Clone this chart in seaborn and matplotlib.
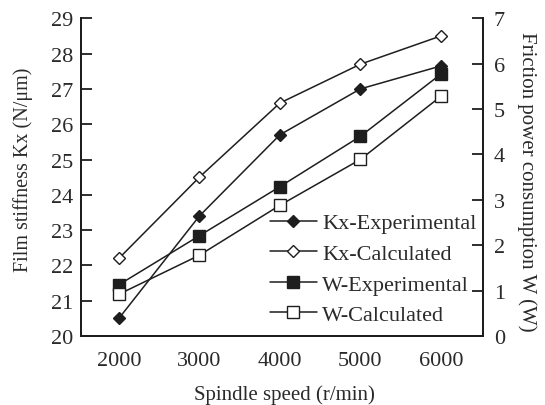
import matplotlib
matplotlib.use("Agg")
import matplotlib.pyplot as plt
import seaborn as sns
import pandas as pd
from matplotlib.ticker import FixedLocator, MultipleLocator

sns.set_theme(style="white")
plt.rcParams['font.family'] = ['Liberation Serif', 'DejaVu Serif']

speed = [2000, 3000, 4000, 5000, 6000]
kx_exp = [20.5, 23.4, 25.7, 27.0, 27.65]
kx_calc = [22.2, 24.5, 26.6, 27.7, 28.5]
w_exp = [1.13, 2.21, 3.29, 4.40, 5.77]
w_calc = [0.92, 1.78, 2.88, 3.89, 5.28]

W, H = 545, 406
fig = plt.figure(figsize=(W / 100, H / 100), dpi=100)
L, R, T, B = 80.7, 482.7, 19.3, 337.0
ax = fig.add_axes([L / W, 1 - B / H, (R - L) / W, (B - T) / H])
ax2 = ax.twinx()

df_k = pd.DataFrame({"speed": speed, "exp": kx_exp, "calc": kx_calc})
df_w = pd.DataFrame({"speed": speed, "exp": w_exp, "calc": w_calc})

ink = "#1e1e1e"
lw = 1.1
dsz = 6.4
ssz = 8.2
sns.lineplot(data=df_k, x="speed", y="exp", ax=ax, color=ink, lw=lw,
             marker="D", markersize=dsz, markerfacecolor=ink,
             markeredgecolor=ink, markeredgewidth=1.0,
             label="Kx-Experimental", legend=False)
sns.lineplot(data=df_k, x="speed", y="calc", ax=ax, color=ink, lw=lw,
             marker="D", markersize=dsz, markerfacecolor="white",
             markeredgecolor=ink, markeredgewidth=1.0,
             label="Kx-Calculated", legend=False)
sns.lineplot(data=df_w, x="speed", y="exp", ax=ax2, color=ink, lw=lw,
             marker="s", markersize=ssz, markerfacecolor=ink,
             markeredgecolor=ink, markeredgewidth=1.0,
             label="W-Experimental", legend=False)
sns.lineplot(data=df_w, x="speed", y="calc", ax=ax2, color=ink, lw=lw,
             marker="s", markersize=ssz, markerfacecolor="white",
             markeredgecolor=ink, markeredgewidth=1.0,
             label="W-Calculated", legend=False)

ax.set_xlim(1525, 6520)
ax.set_ylim(20, 29)
ax2.set_ylim(0, 7)

ax.xaxis.set_major_locator(FixedLocator(speed))
ax.xaxis.set_minor_locator(FixedLocator([2500, 3500, 4500, 5500]))
ax.yaxis.set_major_locator(MultipleLocator(1))
ax2.yaxis.set_major_locator(MultipleLocator(1))

fs_tick = 16
fs_lab = 15
txt = "#2a2a2a"
ax.tick_params(axis="x", which="major", length=0, labelsize=fs_tick, pad=11, labelcolor=txt)
ax.tick_params(axis="x", which="minor", direction="in", length=6, width=1.3, color=ink)
ax.tick_params(axis="y", direction="in", length=8, width=1.3, labelsize=fs_tick,
               left=True, pad=5.5, color=ink, labelcolor=txt)
ax2.tick_params(axis="y", direction="in", length=8, width=1.3, labelsize=fs_tick,
                right=True, pad=8, color=ink, labelcolor=txt)

for a in (ax, ax2):
    a.spines["top"].set_visible(False)
    for s in ("left", "right", "bottom"):
        a.spines[s].set_color(ink)
        a.spines[s].set_linewidth(1.4)

ax.set_xlabel("Spindle speed (r/min)", fontsize=fs_lab, color=txt)
ax.xaxis.label.set_va("center")
ax.xaxis.set_label_coords(0.506, -0.183)

ax.set_ylabel("Film stiffness Kx (N/μm)", fontsize=14.5, color=txt)
ax.yaxis.label.set_va("center")
ax.yaxis.set_label_coords(-0.1435, 0.526)

ax2.set_ylabel("Friction power consumption W (W)", fontsize=fs_lab, color=txt,
               rotation=270)
ax2.yaxis.label.set_va("center")
ax2.yaxis.set_label_coords(1.110, 0.488)

h1, l1 = ax.get_legend_handles_labels()
h2, l2 = ax2.get_legend_handles_labels()
leg = ax2.legend(h1 + h2, l1 + l2, loc="center left", bbox_to_anchor=(0.471, 0.211),
                 frameon=False, fontsize=16, handlelength=2.1, handletextpad=0.25,
                 labelspacing=0.45, borderpad=0, borderaxespad=0)
for t in leg.get_texts():
    t.set_color(txt)

fig.savefig("out.png", dpi=100)
